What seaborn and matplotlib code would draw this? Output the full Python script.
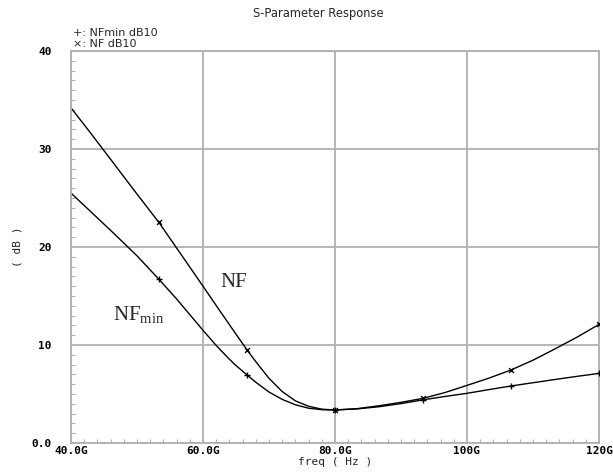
import numpy as np
import pandas as pd
import matplotlib
matplotlib.use("Agg")
import matplotlib.pyplot as plt
import seaborn as sns
from matplotlib.ticker import MultipleLocator, FixedLocator

# data (frequency in GHz, values in dB)
freq = [40, 43, 46, 50, 53.33, 56, 60, 62, 63, 64, 65, 66.67, 68, 70, 72, 74, 76, 78, 80,
        83.33, 86.67, 90, 93.33, 96.67, 100, 103.33, 106.67, 110, 113.33, 116.67, 120]
nf = [34.2, 31.6, 28.95, 25.4, 22.5, 19.9, 16.0, 14.03, 13.05, 12.08, 11.1, 9.5, 8.3, 6.6,
      5.25, 4.3, 3.75, 3.45, 3.37,
      3.5, 3.8, 4.15, 4.55, 5.15, 5.88, 6.62, 7.45, 8.45, 9.6, 10.8, 12.1]
nfmin = [25.5, 23.6, 21.7, 19.1, 16.7, 14.7, 11.5, 9.95, 9.25, 8.55, 7.9, 6.95, 6.2, 5.2,
         4.45, 3.9, 3.55, 3.4, 3.37,
         3.48, 3.7, 4.02, 4.4, 4.75, 5.07, 5.45, 5.82, 6.15, 6.48, 6.8, 7.1]
marker_freq = [53.33, 66.67, 80, 93.33, 106.67, 120]
xtick_vals = [40, 60, 80, 100, 120]
xtick_labels = ["40.0G", "60.0G", "80.0G", "100G", "120G"]
ytick_vals = [0, 10, 20, 30, 40]
ytick_labels = ["0.0", "10", "20", "30", "40"]

sns.set_style("white")
plt.rcParams['font.family'] = ['DejaVu Sans']

fig = plt.figure(figsize=(6.13, 4.74), dpi=100)
ax = fig.add_axes([71/613, 31/474, 528/613, 392/474])

df = pd.DataFrame({"freq": freq, "NF": nf, "NFmin": nfmin})
sns.lineplot(data=df, x="freq", y="NF", ax=ax, color="black", lw=1.0)
sns.lineplot(data=df, x="freq", y="NFmin", ax=ax, color="black", lw=1.0)

mdf = df[df["freq"].isin(marker_freq)]
ax.scatter(mdf["freq"], mdf["NF"], marker="x", s=12, color="black", linewidths=1.0, zorder=5)
ax.scatter(mdf["freq"], mdf["NFmin"], marker="+", s=22, color="black", linewidths=1.0, zorder=5)

ax.set_xlim(40, 120)
ax.set_ylim(0, 40)
ax.xaxis.set_major_locator(FixedLocator(xtick_vals))
ax.yaxis.set_major_locator(FixedLocator(ytick_vals))
ax.set_xticklabels(xtick_labels)
ax.set_yticklabels(ytick_labels)
ax.xaxis.set_minor_locator(MultipleLocator(2))
ax.yaxis.set_minor_locator(MultipleLocator(1))
ax.grid(True, which="major", color="#b0b0b0", lw=1.3)
ax.set_axisbelow(True)
for s in ax.spines.values():
    s.set_color("#b0b0b0")
    s.set_linewidth(1.3)
ax.tick_params(which="major", length=0, labelsize=8, pad=4, labelcolor="black")
ax.tick_params(which="minor", direction="in", length=3, color="#b0b0b0", width=0.8,
               bottom=True, left=True, top=False, right=False)
for lbl in ax.get_xticklabels() + ax.get_yticklabels():
    lbl.set_family("DejaVu Sans Mono")
    lbl.set_fontweight("bold")
ax.tick_params(axis="x", pad=2)
ax.tick_params(axis="y", pad=14)

ax.set_xlabel("freq ( Hz )", fontsize=8, family="DejaVu Sans Mono", labelpad=1)
ax.set_ylabel("( dB )", fontsize=8, family="DejaVu Sans Mono", labelpad=6)

fig.text(318/613, 1 - 13/474, "S-Parameter Response", ha="center", va="center",
         fontsize=8.3, family="DejaVu Sans")
fig.text(73/613, 1 - 33/474, "+: NFmin dB10", ha="left", va="center", fontsize=8,
         family="DejaVu Sans")
fig.text(73/613, 1 - 44/474, "\u00d7: NF dB10", ha="left", va="center", fontsize=8,
         family="DejaVu Sans")

ax.text(62.6, 16.4, "NF", fontsize=15, family="Liberation Serif", ha="left", va="center")
ax.text(46.3, 13.0, "NF$_{\\mathregular{min}}$", fontsize=15, family="Liberation Serif",
        ha="left", va="center")

fig.savefig("out.png", dpi=100)
